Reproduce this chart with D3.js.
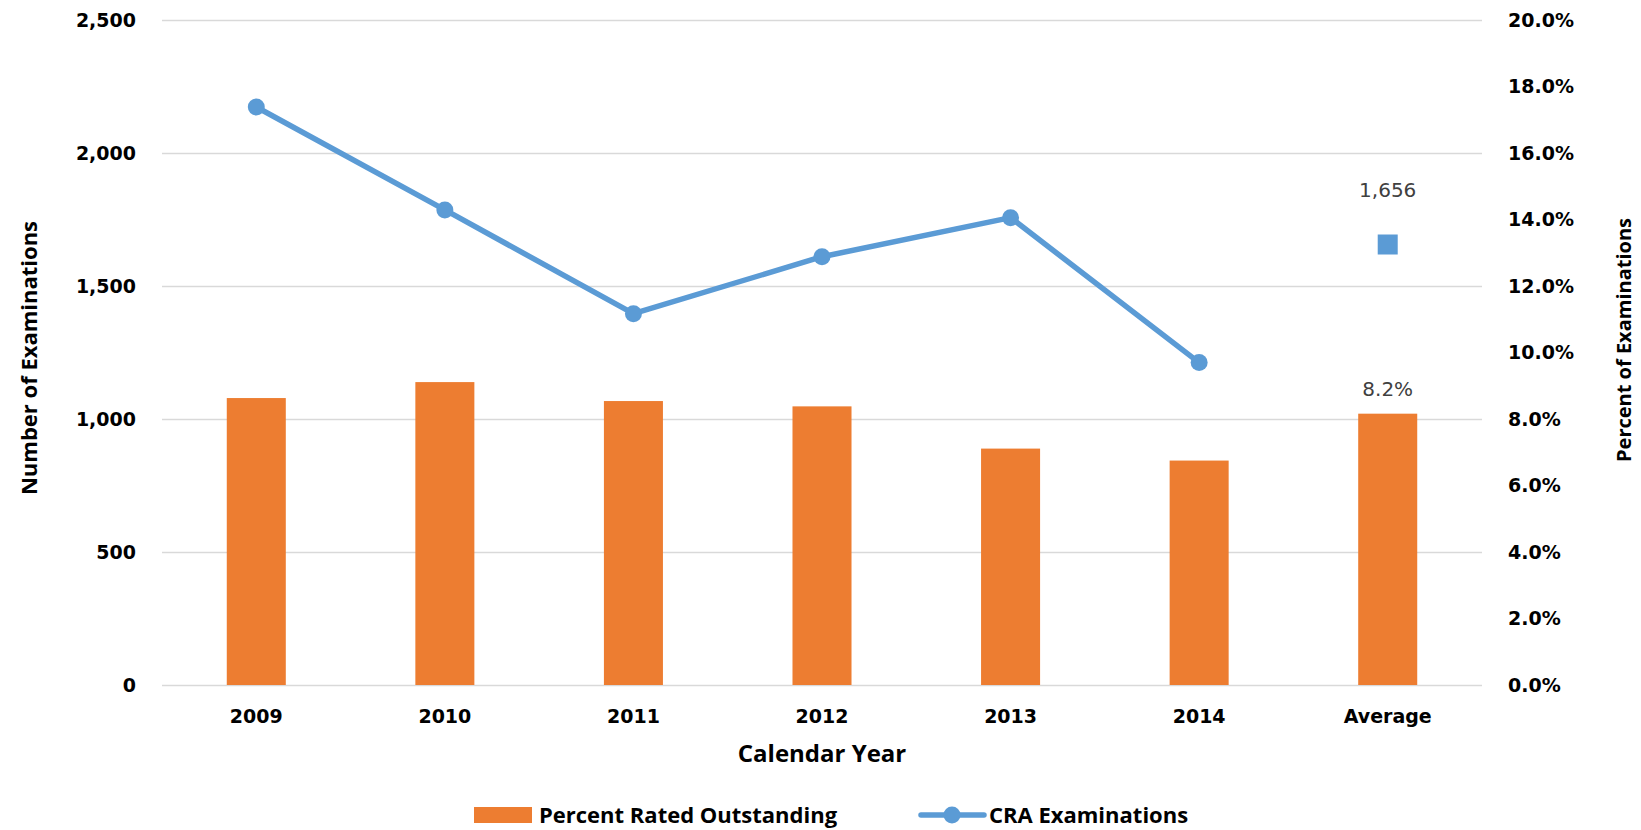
<!DOCTYPE html>
<html>
<head>
<meta charset="utf-8">
<script src="https://cdn.jsdelivr.net/npm/d3@7"></script>
<style>
  body { margin: 0; background: #fff; }
  svg { display: block; }
</style>
</head>
<body>
<svg width="1641" height="830"></svg>
<script>
// chart data
const years = ["2009", "2010", "2011", "2012", "2013", "2014", "Average"];
const pctOutstanding = [0.0863, 0.0911, 0.0854, 0.0838, 0.0711, 0.0675, 0.0816];
const examYears = ["2009", "2010", "2011", "2012", "2013", "2014"];
const examCounts = [2173, 1786, 1396, 1610, 1757, 1212];
const examAverage = 1656;
const leftTicks = [0, 500, 1000, 1500, 2000, 2500];
const rightTicks = [0, 0.02, 0.04, 0.06, 0.08, 0.10, 0.12, 0.14, 0.16, 0.18, 0.20];

const orange = "#ED7D31", blue = "#5B9BD5", grid = "#D9D9D9";
const tickFont = "'DejaVu Sans', Verdana, sans-serif";
const titleFont = "'Open Sans', 'Liberation Sans', sans-serif";

const svg = d3.select("svg"),
    margin = { top: 20, right: 159, bottom: 145, left: 162 },
    width = +svg.attr("width") - margin.left - margin.right,
    height = +svg.attr("height") - margin.top - margin.bottom,
    g = svg.append("g").attr("transform", `translate(${margin.left},${margin.top})`);

const x = d3.scaleBand()
    .domain(years)
    .range([0, width])
    .paddingInner(0.687)
    .paddingOuter(0.3435);

const yLeft = d3.scaleLinear().domain([0, 2500]).range([height, 0]);
const yRight = d3.scaleLinear().domain([0, 0.2]).range([height, 0]);
const cx = d => x(d) + x.bandwidth() / 2;

// gridlines
g.append("g")
    .call(d3.axisLeft(yLeft).tickValues(leftTicks).tickSize(-width).tickFormat(""))
    .call(a => a.select(".domain").remove())
    .call(a => a.selectAll("line").attr("stroke", grid).attr("stroke-width", 1.5));

// left axis
g.append("g")
    .call(d3.axisLeft(yLeft).tickValues(leftTicks).tickFormat(d3.format(",")).tickSize(0).tickPadding(26))
    .call(a => a.select(".domain").remove())
    .selectAll("text")
    .attr("font-family", tickFont).attr("font-weight", "bold").attr("font-size", 19).attr("fill", "#000");

// right axis
g.append("g")
    .attr("transform", `translate(${width},0)`)
    .call(d3.axisRight(yRight).tickValues(rightTicks).tickFormat(d3.format(".1%")).tickSize(0).tickPadding(26))
    .call(a => a.select(".domain").remove())
    .selectAll("text")
    .attr("font-family", tickFont).attr("font-weight", "bold").attr("font-size", 19).attr("fill", "#000");

// bottom axis
g.append("g")
    .attr("transform", `translate(0,${height})`)
    .call(d3.axisBottom(x).tickSize(0).tickPadding(25))
    .call(a => a.select(".domain").remove())
    .selectAll("text")
    .attr("font-family", tickFont).attr("font-weight", "bold").attr("font-size", 19).attr("fill", "#000");

// bars
g.selectAll("rect.bar")
    .data(years.map((d, i) => ({ year: d, v: pctOutstanding[i] })))
    .enter()
    .append("rect")
    .attr("class", "bar")
    .attr("x", d => x(d.year))
    .attr("y", d => yRight(d.v))
    .attr("width", x.bandwidth())
    .attr("height", d => height - yRight(d.v))
    .attr("fill", orange);

// average bar label
const avgIdx = years.length - 1;
g.append("text")
    .attr("x", cx(years[avgIdx]))
    .attr("y", yRight(pctOutstanding[avgIdx]) - 18)
    .attr("text-anchor", "middle")
    .attr("font-family", tickFont).attr("font-size", 20).attr("fill", "#404040")
    .text(d3.format(".1%")(pctOutstanding[avgIdx]));

// line
const examData = examYears.map((d, i) => ({ year: d, v: examCounts[i] }));
g.append("path")
    .datum(examData)
    .attr("fill", "none")
    .attr("stroke", blue)
    .attr("stroke-width", 5.5)
    .attr("stroke-linejoin", "round")
    .attr("d", d3.line().x(d => cx(d.year)).y(d => yLeft(d.v)));

g.selectAll("circle.pt")
    .data(examData)
    .enter()
    .append("circle")
    .attr("class", "pt")
    .attr("cx", d => cx(d.year))
    .attr("cy", d => yLeft(d.v))
    .attr("r", 8.5)
    .attr("fill", blue);

// average marker
g.append("rect")
    .attr("x", cx("Average") - 10)
    .attr("y", yLeft(examAverage) - 10)
    .attr("width", 20)
    .attr("height", 20)
    .attr("fill", blue);

g.append("text")
    .attr("x", cx("Average"))
    .attr("y", yLeft(examAverage) - 48)
    .attr("text-anchor", "middle")
    .attr("font-family", tickFont).attr("font-size", 20).attr("fill", "#404040")
    .text(d3.format(",")(examAverage));

// axis titles
svg.append("text")
    .attr("transform", "translate(37,358) rotate(-90)")
    .attr("text-anchor", "middle")
    .attr("font-family", titleFont).attr("font-weight", "bold").attr("font-size", 22)
    .text("Number of Examinations");

svg.append("text")
    .attr("transform", "translate(1631,340) rotate(-90)")
    .attr("text-anchor", "middle")
    .attr("font-family", titleFont).attr("font-weight", "bold").attr("font-size", 20)
    .text("Percent of Examinations");

svg.append("text")
    .attr("x", 822)
    .attr("y", 762)
    .attr("text-anchor", "middle")
    .attr("font-family", titleFont).attr("font-weight", "bold").attr("font-size", 24)
    .text("Calendar Year");

// legend
const leg = svg.append("g").attr("transform", "translate(0,815)");
leg.append("rect").attr("x", 474).attr("y", -8).attr("width", 58).attr("height", 16).attr("fill", orange);
leg.append("text").attr("x", 539).attr("y", 8)
    .attr("font-family", titleFont).attr("font-weight", "bold").attr("font-size", 22)
    .text("Percent Rated Outstanding");
leg.append("line").attr("x1", 921).attr("x2", 984).attr("y1", 0).attr("y2", 0)
    .attr("stroke", blue).attr("stroke-width", 5.5).attr("stroke-linecap", "round");
leg.append("circle").attr("cx", 952).attr("cy", 0).attr("r", 8.5).attr("fill", blue);
leg.append("text").attr("x", 989).attr("y", 8)
    .attr("font-family", titleFont).attr("font-weight", "bold").attr("font-size", 22)
    .text("CRA Examinations");
</script>
</body>
</html>
